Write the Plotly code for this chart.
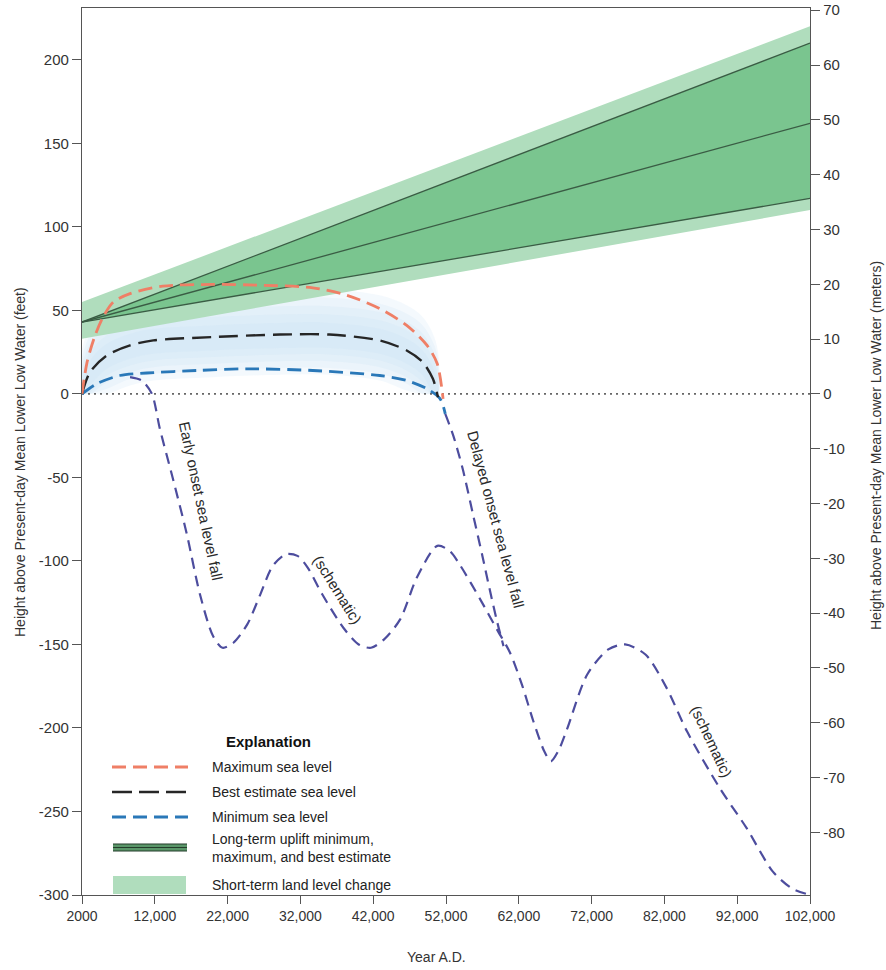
import numpy as np
import plotly.graph_objects as go

# ---------------- data ----------------
year_ticks = [2000, 12000, 22000, 32000, 42000, 52000, 62000, 72000, 82000, 92000, 102000]
year_tick_text = ["2000", "12,000", "22,000", "32,000", "42,000", "52,000", "62,000",
                  "72,000", "82,000", "92,000", "102,000"]
ft_ticks = [-300, -250, -200, -150, -100, -50, 0, 50, 100, 150, 200]
ft_tick_text = ["-300", "-250", "-200", "-150", "-100", "-50", "0", "50", "100", "150", "200"]
m_ticks = [-80, -70, -60, -50, -40, -30, -20, -10, 0, 10, 20, 30, 40, 50, 60, 70]
m_tick_text = [str(v) for v in m_ticks]

# long-term uplift (feet)
uplift_years = [2000, 102000]
uplift_min = [43, 117]
uplift_best = [43, 162]
uplift_max = [43, 210]
# short-term land level change band (feet)
short_lower = [33, 110]
short_upper = [55, 220]

# sea level curves (feet)
max_years = [2000, 2700, 3800, 4900, 6300, 8600, 13100, 20000, 26900, 33700, 38400,
             42900, 46600, 49400, 50800, 51600]
max_ft = [0, 19, 35, 46, 55, 60, 64.5, 65.5, 65, 63.5, 59, 51, 41, 29, 18, -3]

best_years = [2000, 3100, 5400, 8600, 11800, 20000, 29200, 36000, 42900, 46600, 48800,
              50200, 50900]
best_ft = [0, 13, 23, 29, 32, 34, 35.5, 35.5, 32, 26, 19, 9, -2]

min_years = [2000, 4000, 7200, 10900, 17800, 24700, 33700, 42900, 46600, 49400, 51200, 51900]
min_ft = [0, 6, 11, 12.5, 14, 15, 14, 11, 8, 3, -3, -12]

# early onset sea level fall + schematic continuation (feet)
early_years = [8600, 10200, 11600, 12700, 14500, 16400, 18200, 20000, 21300, 22800, 24700,
               26500, 28200, 30000, 31600, 33000, 35000, 37900, 40000, 41700, 43500, 45700,
               48000, 50800, 52500, 54000, 56700, 59000, 60800, 62500, 64000, 65500, 66400,
               67400, 68600, 71400, 74300, 76600, 79400, 82300, 85100, 89600, 93300, 96900,
               99500, 102000]
early_ft = [10, 8, 0, -21, -51, -84, -120, -145, -152, -149, -138, -120, -103, -96, -97,
            -104, -120, -140, -150, -152, -147, -135, -110, -91, -94, -103, -123, -141,
            -155, -175, -196, -214, -220, -214, -201, -168, -153, -150, -156, -176, -202,
            -236, -260, -286, -296, -300]

# delayed onset sea level fall (feet)
delayed_years = [51900, 53000, 54300, 55700, 57000, 58000, 59000, 59900]
delayed_ft = [-12, -25, -45, -72, -97, -117, -136, -151]

zero_years = [2000, 102000]
zero_ft = [0, 0]

# ---------------- styling ----------------
FONT = "Liberation Sans, Arial, Helvetica, sans-serif"
C_RED = "#ef7f66"
C_BLACK = "#262626"
C_BLUE = "#2a78b8"
C_NAVY = "#4d4d9e"
C_LIGHTG = "rgb(176,221,189)"
C_DARKG = "rgb(122,197,143)"
C_UPL = "rgb(58,92,68)"
AX = "#555555"

L, R, T, B = 82, 76, 8, 75
W, H = 886, 970
PW, PH = W - L - R, H - T - B


def px(x):
    return (x - L) / PW


def py(y):
    return (H - B - y) / PH


fig = go.Figure()

# glow behind sea-level curves
by = np.array(best_ft, dtype=float)
for k_up, k_dn in [(27, 24), (22, 20), (17, 16), (12, 12), (7, 8)]:
    up = by + k_up
    dn = np.maximum(by - k_dn, 0)
    fig.add_trace(go.Scatter(
        x=list(best_years) + list(best_years)[::-1],
        y=list(up) + list(dn)[::-1],
        fill="toself", fillcolor="rgba(196,225,247,0.19)",
        line=dict(width=0, shape="spline"), mode="lines", hoverinfo="skip", showlegend=False))

# short-term band
fig.add_trace(go.Scatter(
    x=uplift_years + uplift_years[::-1], y=short_lower + short_upper[::-1],
    fill="toself", fillcolor=C_LIGHTG, line=dict(width=0), mode="lines", showlegend=False))
# long-term uplift band
fig.add_trace(go.Scatter(
    x=uplift_years + uplift_years[::-1], y=uplift_min + uplift_max[::-1],
    fill="toself", fillcolor=C_DARKG, line=dict(width=0), mode="lines", showlegend=False))
for arr in (uplift_min, uplift_best, uplift_max):
    fig.add_trace(go.Scatter(x=uplift_years, y=arr, mode="lines",
                             line=dict(color=C_UPL, width=1.3), showlegend=False))

# zero line
fig.add_trace(go.Scatter(x=zero_years, y=zero_ft, mode="lines",
                         line=dict(color="#666666", width=1.6, dash="2px,4px"), showlegend=False))

# schematic lines
fig.add_trace(go.Scatter(x=early_years, y=early_ft, mode="lines",
                         line=dict(color=C_NAVY, width=2.2, dash="11px,7px", shape="spline",
                                   smoothing=0.8), showlegend=False))
fig.add_trace(go.Scatter(x=delayed_years, y=delayed_ft, mode="lines",
                         line=dict(color=C_NAVY, width=2.2, dash="11px,7px", shape="spline",
                                   smoothing=0.8), showlegend=False))

# sea-level curves
fig.add_trace(go.Scatter(x=min_years, y=min_ft, mode="lines",
                         line=dict(color=C_BLUE, width=2.8, dash="14px,7px", shape="spline",
                                   smoothing=0.8), showlegend=False))
fig.add_trace(go.Scatter(x=best_years, y=best_ft, mode="lines",
                         line=dict(color=C_BLACK, width=2.4, dash="19px,8px", shape="spline",
                                   smoothing=0.8), showlegend=False))
fig.add_trace(go.Scatter(x=max_years, y=max_ft, mode="lines",
                         line=dict(color=C_RED, width=2.8, dash="14px,7px", shape="spline",
                                   smoothing=0.8), showlegend=False))

# right axis carrier trace (invisible)
fig.add_trace(go.Scatter(x=[2000], y=[0], yaxis="y2", mode="markers",
                         marker=dict(opacity=0), hoverinfo="skip", showlegend=False))

FT2M = 0.3048
ft_range = [-300, 231]

fig.update_layout(
    width=W, height=H,
    margin=dict(l=L, r=R, t=T, b=B, autoexpand=False),
    paper_bgcolor="white", plot_bgcolor="white",
    font=dict(family=FONT, color="#333333", size=14),
    showlegend=False,
    xaxis=dict(range=[2000, 102000], tickvals=year_ticks, ticktext=year_tick_text,
               showgrid=False, zeroline=False, showline=True, linecolor=AX, linewidth=1.3,
               mirror=True, ticks="outside", ticklen=8, tickcolor=AX, tickwidth=1.2,
               automargin=False, tickfont=dict(size=14, color="#333333")),
    yaxis=dict(range=ft_range, tickvals=ft_ticks, ticktext=ft_tick_text,
               showgrid=False, zeroline=False, showline=True, linecolor=AX, linewidth=1.3,
               ticks="outside", ticklen=9, tickcolor=AX, tickwidth=1.2,
               automargin=False, tickfont=dict(size=15, color="#333333")),
    yaxis2=dict(range=[ft_range[0] * FT2M, ft_range[1] * FT2M], overlaying="y", side="right",
                tickvals=m_ticks, ticktext=m_tick_text,
                showgrid=False, zeroline=False, showline=True, linecolor=AX, linewidth=1.3,
                ticks="outside", ticklen=9, tickcolor=AX, tickwidth=1.2,
                automargin=False, tickfont=dict(size=15, color="#333333")),
)

ann = []


def pann(text, x, y, **kw):
    d = dict(text=text, xref="paper", yref="paper", x=px(x), y=py(y), showarrow=False,
             xanchor="center", yanchor="middle")
    d.update(kw)
    ann.append(d)


# axis titles
pann("Height above Present-day Mean Lower Low Water (feet)", 20, 462, textangle=-90, font=dict(size=14))
pann("Height above Present-day Mean Lower Low Water (meters)", 876, 445, textangle=-90, font=dict(size=14))
pann("Year A.D.", 436, 957, font=dict(size=14))

# curve labels
lab_font = dict(size=15, color="#2a2a2a")
ann.append(dict(text="Early onset sea level fall", x=18300, y=-64, textangle=78, showarrow=False,
                xanchor="center", yanchor="middle", font=lab_font))
ann.append(dict(text="(schematic)", x=37100, y=-117, textangle=58, showarrow=False,
                xanchor="center", yanchor="middle", font=lab_font))
ann.append(dict(text="Delayed onset sea level fall", x=58900, y=-75, textangle=75, showarrow=False,
                xanchor="center", yanchor="middle", font=lab_font))
ann.append(dict(text="(schematic)", x=88500, y=-208, textangle=65, showarrow=False,
                xanchor="center", yanchor="middle", font=lab_font))

# legend
pann("<b>Explanation</b>", 268, 741, font=dict(size=15, color="#111111"))
leg_rows = [("Maximum sea level", 767), ("Best estimate sea level", 792), ("Minimum sea level", 817),
            ("Long-term uplift minimum,<br>maximum, and best estimate", 848),
            ("Short-term land level change", 885)]
for txt, yy in leg_rows:
    pann(txt, 210, yy, xanchor="left", align="left", font=dict(size=14, color="#222222"))

shapes = []
x0, x1 = px(112), px(188)
shapes.append(dict(type="line", xref="paper", yref="paper", x0=x0, x1=x1, y0=py(767), y1=py(767),
                   line=dict(color=C_RED, width=2.8, dash="14px,7px")))
shapes.append(dict(type="line", xref="paper", yref="paper", x0=x0, x1=x1, y0=py(792), y1=py(792),
                   line=dict(color=C_BLACK, width=2.4, dash="20px,7px")))
shapes.append(dict(type="line", xref="paper", yref="paper", x0=x0, x1=x1, y0=py(817), y1=py(817),
                   line=dict(color=C_BLUE, width=2.8, dash="14px,7px")))
shapes.append(dict(type="rect", xref="paper", yref="paper", x0=px(113), x1=px(187), y0=py(851), y1=py(844),
                   fillcolor="rgb(90,150,105)", line=dict(width=0)))
for yy in (844, 847.5, 851):
    shapes.append(dict(type="line", xref="paper", yref="paper", x0=px(113), x1=px(187), y0=py(yy), y1=py(yy),
                       line=dict(color="rgb(35,60,42)", width=1.2)))
shapes.append(dict(type="rect", xref="paper", yref="paper", x0=px(113), x1=px(186), y0=py(894), y1=py(876),
                   fillcolor=C_LIGHTG, line=dict(width=0)))

fig.update_layout(annotations=ann, shapes=shapes)
fig.write_html("out.html")
